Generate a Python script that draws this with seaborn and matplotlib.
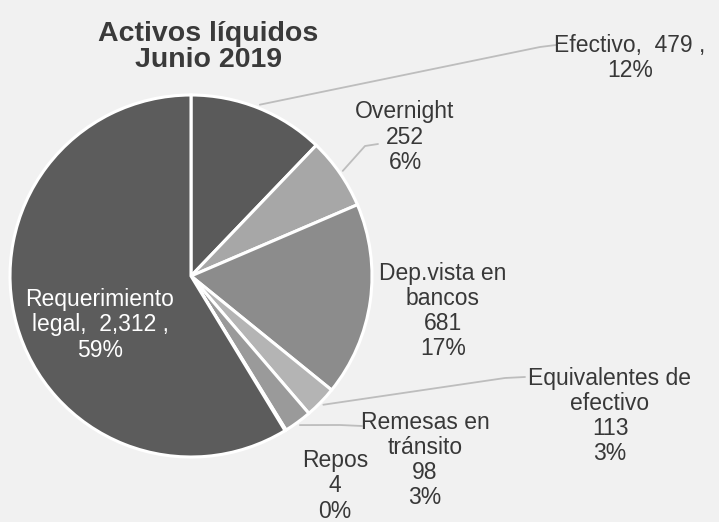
import numpy as np
import matplotlib
matplotlib.use("Agg")
import matplotlib.pyplot as plt
import seaborn as sns

sns.set_theme(style="white")
plt.rcParams['font.family'] = ['Liberation Sans', 'DejaVu Sans']

categories = ["Efectivo", "Overnight", "Dep.vista en\nbancos", "Equivalentes de\nefectivo",
              "Remesas en\ntránsito", "Repos", "Requerimiento\nlegal"]
values = [479, 252, 681, 113, 98, 4, 2312]
pct_labels = ["12%", "6%", "17%", "3%", "3%", "0%", "59%"]
value_labels = ["479", "252", "681", "113", "98", "4", "2,312"]
colors = ["#5a5a5a", "#a7a7a7", "#8c8c8c", "#b4b4b4", "#9a9a9a", "#9a9a9a", "#5c5c5c"]
title = "Activos líquidos\nJunio 2019"

W, H = 719, 522
fig = plt.figure(figsize=(W / 100, H / 100), dpi=100)
bg = "#f1f1f1"
fig.patch.set_facecolor(bg)

cx, cy, R = 191, 276, 181
ax = fig.add_axes([(cx - R) / W, (H - cy - R) / H, 2 * R / W, 2 * R / H])
ax.set_facecolor(bg)

wedges, _ = ax.pie(values, colors=colors, startangle=90, counterclock=False,
                   radius=1.0, wedgeprops=dict(edgecolor="white", linewidth=2.2))
ax.set_xlim(-1, 1)
ax.set_ylim(-1, 1)
ax.set_aspect("equal")
ax.axis("off")


def px(x, y):
    return (x - cx) / R, (cy - y) / R


txt_color = "#383838"
fs = 16.5

label_pos = {
    0: (630, 58),
    1: (405, 137),
    2: (443, 311),
    3: (610, 416),
    4: (425, 460),
    5: (335, 486),
    6: (100, 325),
}
texts = [
    f"{categories[0]},  {value_labels[0]} ,\n{pct_labels[0]}",
    f"{categories[1]}\n{value_labels[1]}\n{pct_labels[1]}",
    f"{categories[2]}\n{value_labels[2]}\n{pct_labels[2]}",
    f"{categories[3]}\n{value_labels[3]}\n{pct_labels[3]}",
    f"{categories[4]}\n{value_labels[4]}\n{pct_labels[4]}",
    f"{categories[5]}\n{value_labels[5]}\n{pct_labels[5]}",
    f"Requerimiento\nlegal,  {value_labels[6]} ,\n{pct_labels[6]}",
]
for i, t in enumerate(texts):
    x, y = px(*label_pos[i])
    ax.text(x, y, t, ha="center", va="center", fontsize=fs,
            color="white" if i == 6 else txt_color, linespacing=1.12, clip_on=False)

leader_ends = {0: [(540, 47), (556, 45)], 1: [(365, 146), (378, 144)],
               3: [(505, 378), (525, 377)], 4: [(340, 425), (362, 426)]}
for i, pts in leader_ends.items():
    w = wedges[i]
    ang = np.deg2rad((w.theta1 + w.theta2) / 2)
    x0, y0 = 1.02 * np.cos(ang), 1.02 * np.sin(ang)
    xs = [x0] + [px(*p)[0] for p in pts]
    ys = [y0] + [px(*p)[1] for p in pts]
    ax.plot(xs, ys, color="#bdbdbd", lw=1.3, clip_on=False)

fig.text(208 / W, 1 - 47 / H, title, ha="center", va="center", fontsize=20.5,
         fontweight="bold", color="#3a3a3a", linespacing=1.0)

fig.savefig("out.png", dpi=100, facecolor=bg)
